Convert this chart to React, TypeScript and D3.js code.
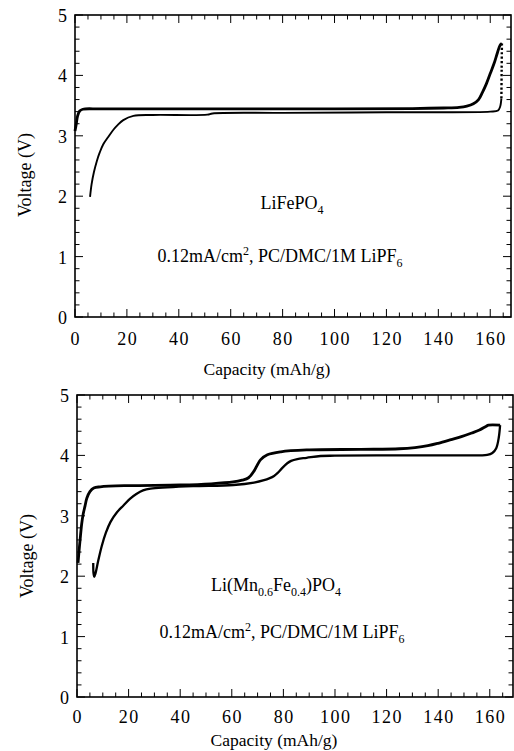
import React from "react";
import * as d3 from "d3";

// Axis ticks shared by both panels
const xMajorTicks = [0, 20, 40, 60, 80, 100, 120, 140, 160];
const yMajorTicks = [0, 1, 2, 3, 4, 5];

// LiFePO4 cell: [capacity mAh/g, voltage V]
const lfpCharge: [number, number][] = [
  [0, 3.08], [0.5, 3.2], [1.0, 3.33], [1.8, 3.41], [3, 3.44], [10, 3.445],
  [50, 3.445], [100, 3.445], [130, 3.45], [142, 3.46], [148, 3.47],
  [151, 3.49], [153.5, 3.53], [155.5, 3.6], [157, 3.72], [158.5, 3.86],
  [160, 4.03], [161.5, 4.2], [162.8, 4.38], [163.8, 4.5], [164.5, 4.53],
];
const lfpDischarge: [number, number][] = [
  [164.5, 4.53], [164.4, 4.1], [164.3, 3.62], [163.8, 3.48], [163, 3.42],
  [160, 3.4], [120, 3.39], [80, 3.38], [53, 3.37], [51, 3.35], [30, 3.345],
  [22.5, 3.33], [18.6, 3.26], [16.5, 3.18], [14.8, 3.1], [12.8, 2.98],
  [10.9, 2.86], [9.5, 2.72], [8.4, 2.58], [7.3, 2.4], [6.4, 2.2], [5.8, 1.99],
];

// Li(Mn0.6Fe0.4)PO4 cell: [capacity mAh/g, voltage V]
const lmfpCharge: [number, number][] = [
  [0.4, 2.22], [0.8, 2.42], [1.2, 2.6], [1.8, 2.86], [2.4, 3.03],
  [3.1, 3.16], [3.8, 3.29], [5.0, 3.4], [6.5, 3.46], [9, 3.48], [20, 3.5],
  [40, 3.51], [52, 3.53], [60.5, 3.56], [64, 3.59], [66.5, 3.63],
  [68.6, 3.74], [70, 3.85], [71.2, 3.93], [73.8, 4.01], [79, 4.06],
  [89, 4.09], [110, 4.1], [125, 4.11], [131, 4.13], [136, 4.16],
  [140, 4.2], [145, 4.26], [149, 4.31], [153, 4.37], [156, 4.42],
  [158.5, 4.48], [159.5, 4.5], [164, 4.5],
];
const lmfpDischarge: [number, number][] = [
  [164, 4.5], [163.5, 4.3], [162.5, 4.12], [161, 4.04], [159, 4.01],
  [150, 4.0], [120, 4.0], [100, 3.995], [94.4, 3.99], [89, 3.96],
  [85.4, 3.94], [83, 3.91], [81.5, 3.87], [79.5, 3.79], [77.8, 3.71],
  [76.4, 3.66], [74.5, 3.62], [72.5, 3.59], [68.6, 3.55], [60.6, 3.51],
  [45, 3.49], [35, 3.47], [28.5, 3.45], [25.6, 3.42], [23, 3.36],
  [20.5, 3.28], [18, 3.17], [15.5, 3.06], [13, 2.9], [11.2, 2.72],
  [9.6, 2.5], [8.2, 2.25], [7.2, 2.05], [6.7, 1.99], [6.4, 2.05], [6.3, 2.22],
];

type PanelProps = {
  left: number;
  right: number;
  top: number;
  bottom: number;
  xMax: number;
  charge: [number, number][];
  discharge: [number, number][];
  dischargeWidth: number;
  dottedAbove?: number;
  title: React.ReactNode;
  titleX: number;
  titleY: number;
  condX: number;
  condY: number;
  xLabelX: number;
  xLabelY: number;
  tickLabelY: number;
  yLabelX: number;
  yLabelY: number;
};

const FONT = '"Liberation Serif", "Times New Roman", Times, "DejaVu Serif", serif';

function Panel(p: PanelProps) {
  const x = d3.scaleLinear().domain([0, p.xMax]).range([p.left, p.right]);
  const y = d3.scaleLinear().domain([0, 5]).range([p.bottom, p.top]);
  const line = d3
    .line<[number, number]>()
    .x((d) => x(d[0]))
    .y((d) => y(d[1]))
    .curve(d3.curveCatmullRom.alpha(0.5));

  const xMinor = d3.range(0, p.xMax + 0.001, 5);
  const yMinor = d3.range(0, 5.001, 0.2);

  const dotted = p.dottedAbove;
  const dischargeSolid =
    dotted === undefined ? p.discharge : p.discharge.filter((d) => d[1] <= dotted + 0.05);
  const dischargeDotted =
    dotted === undefined ? [] : p.discharge.filter((d) => d[1] >= dotted - 0.05);

  return (
    <g style={{ fontFamily: FONT }} fill="#000">
      {/* minor + major ticks, inward on all four sides */}
      <g stroke="#000" strokeWidth={1}>
        {xMinor.map((v) => {
          const major = Math.abs(v % 20) < 1e-6;
          const len = major ? 8 : 4.5;
          return (
            <g key={"x" + v}>
              <line x1={x(v)} x2={x(v)} y1={p.bottom} y2={p.bottom - len} />
              <line x1={x(v)} x2={x(v)} y1={p.top} y2={p.top + len} />
            </g>
          );
        })}
        {yMinor.map((v) => {
          const major = Math.abs(v - Math.round(v)) < 1e-6;
          const len = major ? 8 : 4.5;
          return (
            <g key={"y" + v.toFixed(1)}>
              <line x1={p.left} x2={p.left + len} y1={y(v)} y2={y(v)} />
              <line x1={p.right} x2={p.right - len} y1={y(v)} y2={y(v)} />
            </g>
          );
        })}
      </g>
      <rect
        x={p.left}
        y={p.top}
        width={p.right - p.left}
        height={p.bottom - p.top}
        fill="none"
        stroke="#000"
        strokeWidth={1.6}
      />

      {/* tick labels */}
      {xMajorTicks.map((v) => (
        <text
          key={"xl" + v}
          x={x(v) + 0.75}
          y={p.tickLabelY}
          fontSize={18}
          letterSpacing={1.5}
          textAnchor="middle"
          style={{ fontFamily: FONT }}
        >
          {v}
        </text>
      ))}
      {yMajorTicks.map((v) => (
        <text
          key={"yl" + v}
          x={p.left - 8}
          y={y(v) + 7}
          fontSize={18}
          textAnchor="end"
          style={{ fontFamily: FONT }}
        >
          {v}
        </text>
      ))}

      <text x={p.xLabelX} y={p.xLabelY} fontSize={17.5} textAnchor="middle" style={{ fontFamily: FONT }}>
        Capacity (mAh/g)
      </text>
      <text
        transform={`translate(${p.yLabelX},${p.yLabelY}) rotate(-90)`}
        fontSize={18}
        textAnchor="middle"
        style={{ fontFamily: FONT }}
      >
        Voltage (V)
      </text>

      {/* curves */}
      <path d={line(p.charge) ?? ""} fill="none" stroke="#000" strokeWidth={2.8} strokeLinejoin="round" />
      <path
        d={line(dischargeSolid) ?? ""}
        fill="none"
        stroke="#000"
        strokeWidth={p.dischargeWidth}
        strokeLinejoin="round"
      />
      {dischargeDotted.length > 1 && (
        <path
          d={line(dischargeDotted) ?? ""}
          fill="none"
          stroke="#000"
          strokeWidth={2.4}
          strokeDasharray="2.2,2.2"
        />
      )}

      {/* annotations */}
      <text x={p.titleX} y={p.titleY} fontSize={18} textAnchor="middle" style={{ fontFamily: FONT }}>
        {p.title}
      </text>
      <text x={p.condX} y={p.condY} fontSize={18} textAnchor="middle" style={{ fontFamily: FONT }}>
        0.12mA/cm
        <tspan dy={-7} fontSize={12}>2</tspan>
        <tspan dy={7}>, PC/DMC/1M LiPF</tspan>
        <tspan dy={5} fontSize={12}>6</tspan>
      </text>
    </g>
  );
}

export default function App() {
  return (
    <div style={{ position: "absolute", left: 0, top: 0 }}>
      <svg width={514} height={751} viewBox="0 0 514 751" style={{ display: "block", background: "#fff" }}>
        <rect width={514} height={751} fill="#fff" />
        <Panel
          left={75}
          right={511}
          top={15}
          bottom={317}
          xMax={168}
          charge={lfpCharge}
          discharge={lfpDischarge}
          dischargeWidth={1.9}
          dottedAbove={3.62}
          title={
            <>
              LiFePO<tspan dy={5} fontSize={12}>4</tspan>
            </>
          }
          titleX={292}
          titleY={209}
          condX={280}
          condY={262}
          xLabelX={267}
          xLabelY={375}
          tickLabelY={345}
          yLabelX={31}
          yLabelY={175}
        />
        <Panel
          left={77}
          right={513}
          top={395}
          bottom={697}
          xMax={169}
          charge={lmfpCharge}
          discharge={lmfpDischarge}
          dischargeWidth={2.3}
          title={
            <>
              Li(Mn<tspan dy={5} fontSize={12}>0.6</tspan>
              <tspan dy={-5}>Fe</tspan>
              <tspan dy={5} fontSize={12}>0.4</tspan>
              <tspan dy={-5}>)PO</tspan>
              <tspan dy={5} fontSize={12}>4</tspan>
            </>
          }
          titleX={276}
          titleY={591}
          condX={282}
          condY={638}
          xLabelX={274}
          xLabelY={746}
          tickLabelY={723}
          yLabelX={33}
          yLabelY={556}
        />
      </svg>
    </div>
  );
}
